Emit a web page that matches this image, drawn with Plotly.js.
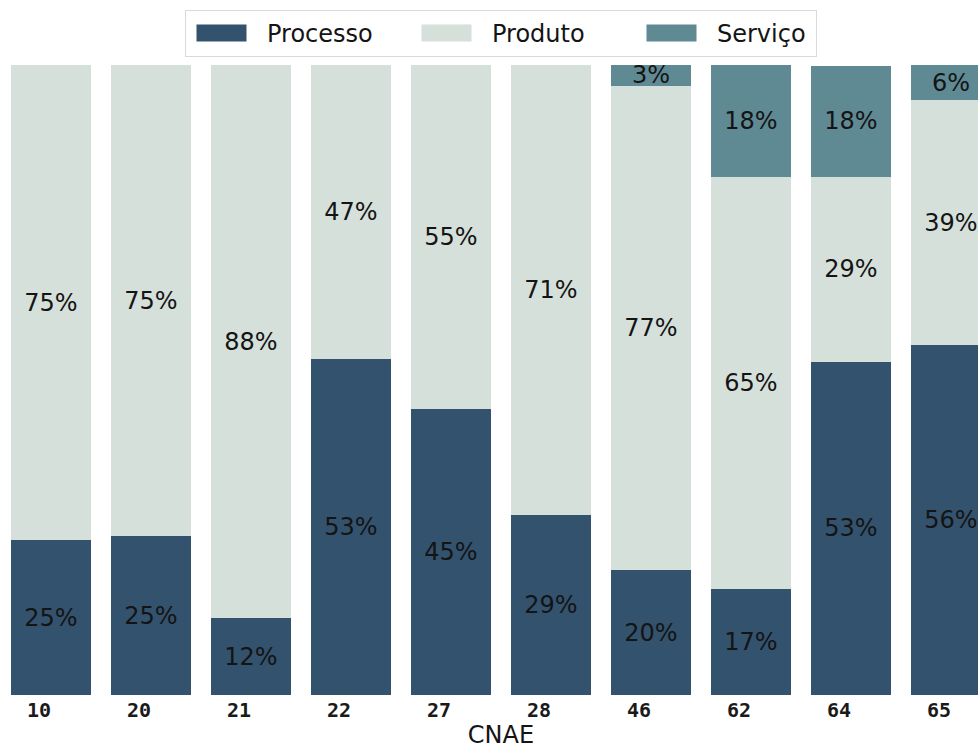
<!DOCTYPE html>
<html><head><meta charset="utf-8">
<script src="https://cdn.plot.ly/plotly-3.0.1.min.js"></script>
<style>html,body{margin:0;padding:0;overflow:hidden;background:#fff}</style>
</head><body><div id="chart" style="width:1002px;height:749px"></div>
<script>
const categories = ['10','20','21','22','27','28','46','62','64','65'];
const processo = [24.6,25.2,12.2,53.3,45.4,28.6,19.8,16.8,52.9,55.6];
const produto  = [75.4,74.8,87.8,46.7,54.6,71.4,76.9,65.4,29.4,38.8];
const servico  = [0,0,0,0,0,0,3.3,17.8,17.6,5.6];
const seriesNames = ['Processo','Produto','Serviço'];
const seriesValues = [processo, produto, servico];
const seriesColors = ['#33526e','#d5e0db','#5f8a94'];
const axisTitle = 'CNAE';

function labels(vals){ return vals.map(v => v > 0 ? Math.round(v) + '%' : ''); }

const traces = seriesNames.map((name, i) => ({
  type: 'bar',
  name: name,
  x: categories,
  y: seriesValues[i],
  text: labels(seriesValues[i]),
  textposition: 'inside',
  insidetextanchor: 'middle',
  textangle: 0,
  constraintext: 'none',
  texttemplate: '%{text}',
  hoverinfo: 'skip',
  insidetextfont: {family: 'DejaVu Sans', size: 24, color: '#141414'},
  marker: {color: seriesColors[i], line: {width: 0}}
}));

const layout = {
  width: 1002, height: 749,
  margin: {l: 1, r: 1, t: 65, b: 54},
  barmode: 'stack',
  bargap: 0.2,
  paper_bgcolor: '#fff', plot_bgcolor: '#fff',
  showlegend: true,
  legend: {
    orientation: 'h', x: 0.184, xanchor: 'left', y: 1.013, yanchor: 'bottom',
    bgcolor: '#fff', bordercolor: '#d9d9d9', borderwidth: 1,
    font: {family: 'DejaVu Sans', size: 24, color: '#141414'},
    entrywidth: 139, entrywidthmode: 'pixels', itemwidth: 71,
    traceorder: 'normal'
  },
  xaxis: {
    type: 'category', showgrid: false, zeroline: false, showline: false,
    ticks: '', ticklabelshift: -12, ticklabelstandoff: 1,
    tickfont: {family: 'DejaVu Sans Mono', size: 20, color: '#1a1a1a', weight: 'bold'},
    title: {text: axisTitle, standoff: 9, font: {family: 'DejaVu Sans', size: 24, color: '#141414'}},
    range: [-0.5, 9.5]
  },
  yaxis: {range: [0, 100], visible: false, showgrid: false, zeroline: false}
};

Plotly.newPlot('chart', traces, layout, {displayModeBar: false, staticPlot: true}).then(gd => {
  // widen the legend swatches to the wide rectangular patches of the reference
  gd.querySelectorAll('.legend .legendpoints path').forEach(p => {
    p.setAttribute('d', 'M20,8.5H-30V-8.5H20Z');
  });
  // trim the legend frame so it ends just after the last entry, as in the reference
  const bg = gd.querySelector('.legend rect.bg');
  if (bg) {
    const w = parseFloat(bg.getAttribute('width'));
    if (w > 640) bg.setAttribute('width', 631);
  }
});
</script>
</body></html>
